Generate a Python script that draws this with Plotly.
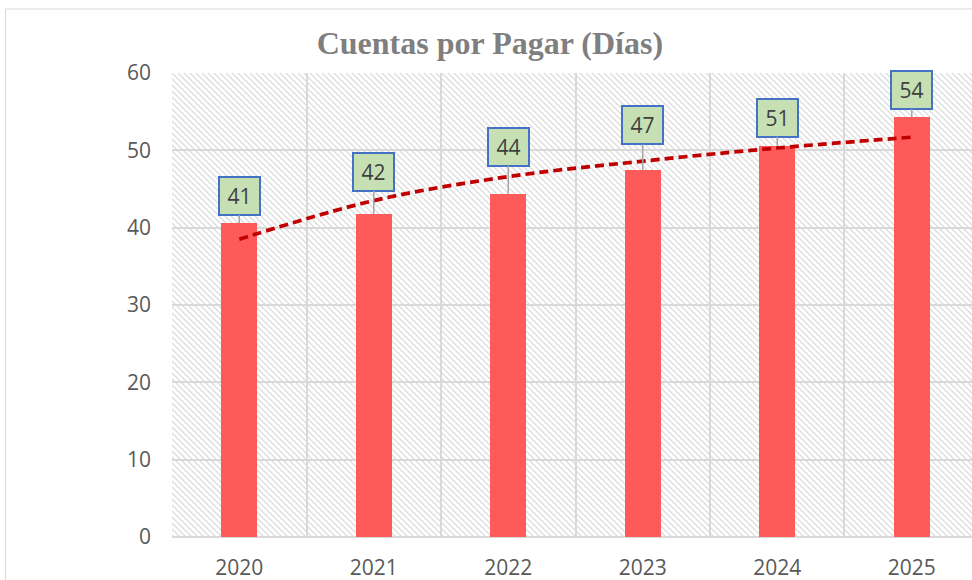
import base64
import plotly.graph_objects as go

# ---- data ----
years = ["2020", "2021", "2022", "2023", "2024", "2025"]
dias = [40.6, 41.8, 44.4, 47.4, 50.6, 54.3]
etiquetas = ["41", "42", "44", "47", "51", "54"]
tendencia = [38.5, 43.5, 46.6, 48.6, 50.3, 51.7]
label_offsets = [-27, -42, -47, -45, -28, -27]  # pixel offsets of label boxes
y_ticks = [0, 10, 20, 30, 40, 50, 60]

# ---- layout geometry ----
W, H = 972, 580
ML, MR, MT, MB = 172, 0, 73, 43
PW, PH = W - ML - MR, H - MT - MB

# hatch background (downward diagonal)
svg = f'''<svg xmlns="http://www.w3.org/2000/svg" width="{PW}" height="{PH}" viewBox="0 0 {PW} {PH}">
<defs><pattern id="p" width="6" height="6" patternUnits="userSpaceOnUse">
<path d="M-1,-1 L7,7 M-4,2 L1,7 M2,-4 L7,1" stroke="#dcdcdc" stroke-width="1.25"/>
</pattern></defs>
<rect width="{PW}" height="{PH}" fill="white"/>
<rect width="{PW}" height="{PH}" fill="url(#p)"/>
</svg>'''
hatch_uri = "data:image/svg+xml;base64," + base64.b64encode(svg.encode()).decode()

fig = go.Figure()
fig.add_trace(go.Bar(
    x=years, y=dias, width=0.27,
    marker=dict(color="#FF5A5A", line=dict(width=0)),
    hoverinfo="skip", showlegend=False,
))
fig.add_trace(go.Scatter(
    x=years, y=tendencia, mode="lines",
    line=dict(color="#C00000", width=3.7, dash="9px,5px", shape="spline"),
    hoverinfo="skip", showlegend=False,
))

annotations = []
for i, (v, t, off) in enumerate(zip(dias, etiquetas, label_offsets)):
    annotations.append(dict(
        xref="x", yref="y", x=i, y=v, text=t,
        showarrow=True, ax=0, ay=off,
        arrowhead=0, arrowwidth=1.5, arrowcolor="#A6A6A6", standoff=0,
        font=dict(family="Open Sans", size=21, color="#404040"),
        bgcolor="#C6E0B4", bordercolor="#4472C4", borderwidth=2, borderpad=1,
        width=37, height=34,
    ))

fig.add_layout_image(dict(
    source=hatch_uri, xref="paper", yref="paper", x=0, y=1,
    sizex=1, sizey=1, sizing="stretch", xanchor="left", yanchor="top",
    layer="below",
))

# outer chart border
fig.add_shape(
    type="rect", xref="paper", yref="paper",
    x0=(5.5 - ML) / PW, x1=1.02, y0=-0.2, y1=1 + (MT - 9) / PH,
    line=dict(color="#D9D9D9", width=1), fillcolor="rgba(0,0,0,0)", layer="below",
)

fig.update_layout(
    width=W, height=H,
    margin=dict(l=ML, r=MR, t=MT, b=MB),
    paper_bgcolor="white", plot_bgcolor="rgba(0,0,0,0)",
    title=dict(
        text="<b>Cuentas por Pagar (Días)</b>",
        x=0.504, xanchor="center", xref="container",
        y=1 - 43 / H, yanchor="middle", yref="container",
        font=dict(family="Liberation Serif", size=32, color="#7F7F7F"),
    ),
    showlegend=False,
    bargap=0,
    annotations=annotations,
)
fig.update_xaxes(
    type="category", range=[-0.5, 5.448], tickson="boundaries",
    showgrid=True, gridcolor="#D9D9D9", gridwidth=2,
    ticks="", showline=False, ticklabelstandoff=16,
    tickfont=dict(family="Open Sans", size=21, color="#595959"),
)
fig.update_yaxes(
    range=[0, 60], tickvals=y_ticks, showgrid=True,
    gridcolor="#D9D9D9", gridwidth=2, zeroline=True, zerolinecolor="#D9D9D9",
    zerolinewidth=2, ticks="", showline=False, ticklabelstandoff=20,
    tickfont=dict(family="Open Sans", size=21, color="#595959"),
)

fig.write_html(
    "out.html",
    config={"displayModeBar": False},
    post_script="document.body.style.margin='0';document.body.style.overflow='hidden';",
)
